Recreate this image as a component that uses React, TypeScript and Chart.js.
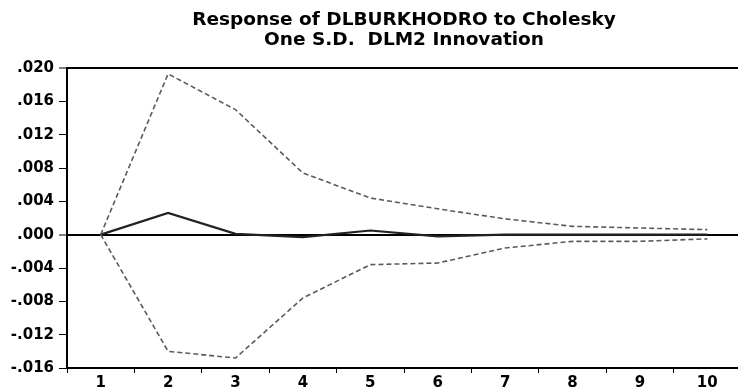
import React, { useEffect, useRef } from "react";
import { Chart, registerables } from "chart.js";

Chart.register(...registerables);

const periods = ["1", "2", "3", "4", "5", "6", "7", "8", "9", "10"];
const response = [0, 0.0026, 0.0001, -0.0003, 0.0005, -0.0002, 0.0, 0.0, 0.0, 0.0];
const upperBand = [0, 0.0193, 0.015, 0.0074, 0.0044, 0.0031, 0.0019, 0.001, 0.0008, 0.0006];
const lowerBand = [0, -0.014, -0.0148, -0.0076, -0.0036, -0.0034, -0.0016, -0.0008, -0.0008, -0.0005];
const yTickValues = [-0.016, -0.012, -0.008, -0.004, 0, 0.004, 0.008, 0.012, 0.016, 0.02];
const yTickLabels = ["-.016", "-.012", "-.008", "-.004", ".000", ".004", ".008", ".012", ".016", ".020"];
const titleLines = ["Response of DLBURKHODRO to Cholesky", "One S.D.  DLM2 Innovation"];

const FONT = "'DejaVu Sans', sans-serif";

export default function App() {
  const ref = useRef<HTMLCanvasElement | null>(null);

  useEffect(() => {
    if (!ref.current) return;
    const chart = new Chart(ref.current, {
      type: "line",
      data: {
        labels: periods,
        datasets: [
          {
            data: upperBand,
            borderColor: "#5a5a5a",
            borderWidth: 1.6,
            borderDash: [5, 3],
            pointRadius: 0,
            tension: 0,
          },
          {
            data: lowerBand,
            borderColor: "#5a5a5a",
            borderWidth: 1.6,
            borderDash: [5, 3],
            pointRadius: 0,
            tension: 0,
          },
          {
            data: response,
            borderColor: "#222222",
            borderWidth: 2.2,
            pointRadius: 0,
            tension: 0,
          },
        ],
      },
      options: {
        responsive: false,
        animation: false,
        layout: { padding: { left: 0, right: 4, top: 0, bottom: 0 } },
        plugins: {
          legend: { display: false },
          tooltip: { enabled: false },
          title: {
            display: true,
            text: titleLines,
            fullSize: false,
            color: "#000",
            font: { family: FONT, size: 18.5, weight: "bold", lineHeight: 20 / 18.5 },
            padding: { top: 10, bottom: 18 },
          },
        },
        scales: {
          x: {
            type: "category",
            offset: true,
            afterFit: (s: any) => {
              s.height = 24;
            },
            grid: {
              offset: true,
              drawOnChartArea: false,
              drawTicks: true,
              tickLength: 5,
              tickColor: "#000",
              tickWidth: 1,
            },
            border: { display: true, color: "#000", width: 2 },
            ticks: {
              color: "#000",
              padding: 1,
              maxRotation: 0,
              font: { family: FONT, size: 15, weight: "bold" },
            },
          },
          y: {
            min: -0.016,
            max: 0.02,
            afterFit: (s: any) => {
              s.width = 67;
            },
            afterBuildTicks: (s: any) => {
              s.ticks = yTickValues.map((v) => ({ value: v }));
            },
            grid: {
              drawOnChartArea: true,
              drawTicks: true,
              tickLength: 8,
              tickColor: "#000",
              tickWidth: 1,
              color: (ctx: any) =>
                ctx.tick && (ctx.tick.value === 0 || ctx.tick.value === 0.02) ? "#000" : "rgba(0,0,0,0)",
              lineWidth: (ctx: any) =>
                ctx.tick && (ctx.tick.value === 0 || ctx.tick.value === 0.02) ? 2 : 1,
            },
            border: { display: true, color: "#000", width: 2 },
            ticks: {
              color: "#000",
              padding: 5,
              font: { family: FONT, size: 15, weight: "bold" },
              callback: (_v: any, i: number) => yTickLabels[i],
            },
          },
        },
      },
    });
    return () => chart.destroy();
  }, []);

  return (
    <div
      style={{
        position: "fixed",
        left: 0,
        top: 0,
        width: 738,
        height: 392,
        overflow: "hidden",
        background: "#fff",
      }}
    >
      <canvas ref={ref} width={745} height={392} style={{ display: "block", width: 745, height: 392 }} />
    </div>
  );
}
